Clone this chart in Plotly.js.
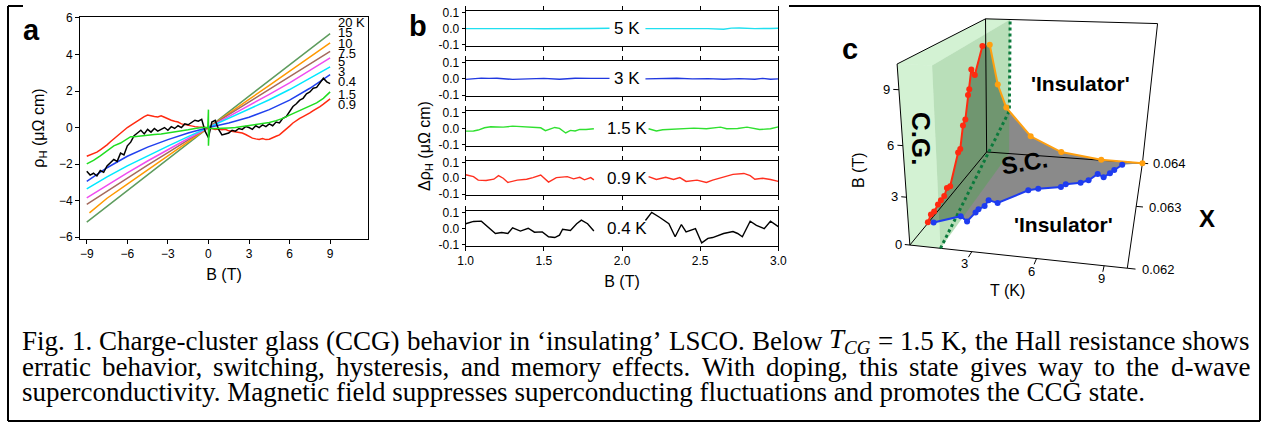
<!DOCTYPE html>
<html><head><meta charset="utf-8">
<script src="https://cdn.plot.ly/plotly-3.0.1.min.js"></script>
<style>html,body{margin:0;padding:0;background:#fff;}#chart{width:1262px;height:429px;}</style>
</head><body><div id="chart"></div>
<script>
// ================= DATA =================
// Panel a: Hall resistivity rho_H (µΩ cm) vs B (T)
const bGrid = [-9,-7.5,-6,-4.5,-3,-1.5,0,1.5,3,4.5,6,7.5,9];
const bGridOrange = [-8.8,-7.5,-6,-4.5,-3,-1.5,0,1.5,3,4.5,6,7.5,9];
const rho20K = [-5.18,-4.31,-3.45,-2.59,-1.72,-0.86,0,0.86,1.72,2.58,3.44,4.30,5.14];
const rho15K = [-4.67,-3.87,-3.10,-2.32,-1.55,-0.77,0,0.77,1.54,2.31,3.08,3.86,4.63];
const rho10K = [-4.21,-3.48,-2.77,-2.06,-1.37,-0.68,0,0.68,1.37,2.06,2.76,3.46,4.17];
const rho7p5K = [-3.85,-3.15,-2.48,-1.83,-1.20,-0.60,0,0.60,1.20,1.82,2.45,3.12,3.81];
const rho5K = [-3.36,-2.70,-2.10,-1.55,-1.02,-0.50,0,0.50,1.00,1.52,2.08,2.68,3.32];
const rho3K = [-2.94,-2.20,-1.57,-1.07,-0.66,-0.30,0,0.25,0.56,0.98,1.50,2.15,2.90];
const bRed = [-9,-8.75,-8.5,-8.25,-8,-7.75,-7.5,-7.25,-7,-6.75,-6.5,-6.25,-6,-5.75,-5.5,-5.25,-5,-4.75,-4.5,-4.25,-4,-3.75,-3.5,-3.25,-3,-2.75,-2.5,-2.25,-2,-1.75,-1.5,-1.25,-1,-0.75,-0.5,-0.25,0,0.25,0.5,0.75,1,1.25,1.5,1.75,2,2.25,2.5,2.75,3,3.25,3.5,3.75,4,4.25,4.5,4.75,5,5.25,5.5,5.75,6,6.25,6.5,6.75,7,7.25,7.5,7.75,8,8.25,8.5,8.75,9];
const rho0p9K = [-1.57,-1.50,-1.45,-1.35,-1.22,-1.10,-0.95,-0.78,-0.62,-0.45,-0.32,-0.15,0.00,0.12,0.25,0.38,0.50,0.60,0.68,0.62,0.60,0.58,0.64,0.56,0.46,0.40,0.34,0.30,0.20,0.16,0.10,0.08,0.05,0.03,0.02,0.00,-0.05,-0.05,-0.10,-0.08,-0.12,-0.10,-0.18,-0.20,-0.22,-0.25,-0.30,-0.38,-0.48,-0.58,-0.62,-0.65,-0.60,-0.66,-0.64,-0.58,-0.48,-0.40,-0.25,-0.12,0.08,0.25,0.40,0.50,0.60,0.68,0.80,0.92,1.02,1.15,1.28,1.42,1.57];
const bBlack = bRed;
const rho0p4K = [-2.39,-2.60,-2.50,-2.65,-2.35,-2.45,-2.10,-1.95,-1.75,-1.85,-1.40,-1.50,-1.00,-0.80,-0.45,-0.30,-0.15,-0.35,-0.10,-0.25,-0.05,-0.20,-0.10,0.00,-0.15,0.05,-0.05,0.10,0.00,0.20,0.15,0.30,0.40,0.35,0.45,-0.20,-0.55,0.30,0.40,-0.10,-0.40,-0.35,-0.30,-0.15,-0.20,-0.05,-0.10,0.05,0.00,-0.10,0.10,0.00,0.15,0.05,0.20,0.10,0.30,0.25,0.50,0.60,0.90,1.15,1.30,1.50,1.60,1.85,1.95,2.15,2.20,2.45,2.70,2.50,2.40];
const bGreen = [-9,-8.5,-8,-7.5,-7,-6.5,-6,-5.75,-5.5,-5,-4.5,-4,-3.5,-3,-2.5,-2,-1.5,-1,-0.5,-0.05,0,0,0.05,0.5,1,1.5,2,2.5,3,3.5,4,4.5,5,5.5,6,6.5,7,7.5,8,8.5,9];
const rho1p5K = [-1.99,-1.80,-1.55,-1.25,-1.00,-0.85,-0.62,-0.50,-0.50,-0.45,-0.42,-0.38,-0.35,-0.30,-0.25,-0.18,-0.12,-0.05,0.00,0.00,0.98,-1.00,-0.05,-0.05,-0.05,-0.02,0.00,0.05,0.10,0.15,0.20,0.28,0.38,0.50,0.68,0.85,1.00,1.15,1.35,1.60,1.95];
const tempLabels = ['20 K','15','10','7.5','5','3','0.4','1.5','0.9'];

// Panel b: delta rho_H (µΩ cm) vs B (T), 1-3 T
const bB5K = [1.0,1.1,1.2,1.3,1.4,1.5,1.6,1.7,1.8,1.92,null,2.15,2.25,2.35,2.45,2.55,2.65,2.7,2.75,2.85,2.95,3.0];
const d5K = [0,0.001,-0.001,0.002,0,-0.001,0.001,0,0.001,0.002,null,0,0.001,0,-0.001,0,-0.004,0.003,0.004,0,0.001,0.002];
const bB3K = [1.0,1.05,1.1,1.15,1.2,1.3,1.4,1.5,1.6,1.7,1.8,1.92,null,2.15,2.25,2.35,2.45,2.55,2.65,2.75,2.85,2.9,2.95,3.0];
const d3K = [-0.003,0.002,0.005,0.003,0.004,-0.003,0.002,0.003,-0.002,0.004,0.003,0.003,null,0,0.002,0.004,0,0.002,-0.002,0.002,-0.002,0.003,-0.002,0];
const bB1p5K = [1.0,1.05,1.08,1.12,1.16,1.24,1.30,1.36,1.41,1.48,1.51,1.55,1.57,1.60,1.64,1.67,1.70,1.73,1.77,1.82,null,2.17,2.22,2.26,2.30,2.35,2.40,2.46,2.54,2.60,2.63,2.67,2.74,2.80,2.85,2.88,2.95,3.0];
const d1p5K = [-0.015,-0.014,-0.008,0.006,0.012,0.010,0.016,0.014,0.012,0.006,-0.012,0.004,0.008,0.002,-0.026,-0.010,-0.014,-0.004,-0.005,0.0,null,0.0,-0.014,-0.006,-0.004,0.0,0.002,0.004,0.0,0.004,0.010,0.0,0.002,0.010,0.0,-0.005,0.0,0.012];
const bB0p9K = [1.0,1.05,1.08,1.13,1.18,1.21,1.24,1.27,1.33,1.39,1.43,1.48,1.53,1.58,1.65,1.69,1.73,1.76,1.80,1.82,null,2.17,2.22,2.28,2.33,2.37,2.41,2.48,2.54,2.58,2.65,2.71,2.78,2.82,2.85,2.90,2.95,3.0];
const d0p9K = [0.022,0.010,-0.012,-0.014,-0.006,0.016,0.0,-0.026,-0.012,-0.006,0.004,0.020,-0.024,0.004,0.010,-0.004,0.006,-0.010,0.004,-0.010,null,0.010,-0.008,0.006,-0.008,0.004,-0.020,-0.012,-0.026,-0.012,0.010,0.024,0.030,0.016,-0.006,0.0,-0.008,-0.020];
const bB0p4K = [1.0,1.05,1.10,1.14,1.19,1.23,1.27,1.30,1.35,1.40,1.44,1.49,1.53,1.57,1.60,1.62,1.67,1.71,1.74,1.78,1.82,null,2.15,2.19,2.24,2.30,2.34,2.38,2.41,2.47,2.51,2.55,2.58,2.65,2.71,2.74,2.77,2.82,2.86,2.91,2.95,3.0];
const d0p4K = [0.030,0.044,0.046,0.010,-0.030,-0.024,-0.030,0.005,-0.015,0.002,-0.022,-0.020,-0.050,-0.055,-0.040,-0.004,-0.012,0.030,0.052,0.030,-0.015,null,0.050,0.100,0.070,0.030,-0.050,0.025,-0.020,0.0,-0.088,-0.060,-0.055,-0.030,-0.018,-0.030,-0.050,0.045,0.020,0.0,0.045,0.012];
const bPanelLabels = ['5 K','3 K','1.5 K','0.9 K','0.4 K'];

// Panel c: phase diagram T (K), x (doping), B (T)
const redX = [0.06236,0.06243,0.06250,0.06259,0.06266,0.06274,0.06281,0.06289,0.06312,0.06318,0.06327,0.06334,0.06343,0.06347,0.06354,0.06364,0.06389];
const redB = [0.06,0.32,0.28,0.43,0.48,0.50,0.83,0.70,2.44,2.53,4.00,4.25,5.80,6.13,7.40,6.83,8.50];
const redT = redX.map(() => 0);           // on the T = 0 wall
const orangeT = [0.25,0.75,1.3,2.9,4.9,7.45,10.0];
const orangeB = [8.45,5.5,3.74,1.56,0.44,0.05,0.0];
const orangeX = orangeT.map(() => 0.064);  // on the x = 0.064 wall
const blueT = [0.25,1.35,1.85,1.96,2.0,2.2,2.2,2.77,4.0,4.5,5.7,5.9,6.7,7.1,7.5,7.9,8.2,8.4,8.8];
const blueX = [0.06238,0.06253,0.06245,0.06262,0.06268,0.06275,0.06287,0.06283,0.06314,0.06319,0.06327,0.06334,0.06340,0.06347,0.06364,0.06357,0.06368,0.06377,0.06392];
const blueB = blueT.map(() => 0);          // on the B = 0 floor
const T_CG = 1.5;                           // charge-glass boundary (K)
const cgEdgeB = 3.5;                        // where the boundary meets the orange curve
const tRange = [0, 10], xRange = [0.062, 0.064], bRange = [0, 10.3];
const cTicksT = [3, 6, 9], cTicksX = [0.062, 0.063, 0.064], cTicksB = [0, 3, 6, 9];

// ================= LAYOUT HELPERS =================
const W = 1262, H = 429;
const PX = v => v / W, PY = v => 1 - v / H;
const SANS = 'Liberation Sans, Arial, sans-serif';
const SERIF = 'Liberation Serif, Times New Roman, serif';
const data = [];
const annotations = [];
const shapes = [];

// ---------- panel a ----------
const aSeries = [
  [bGrid, rho20K, '#5e9c5e'], [bGridOrange, rho15K, '#ff9900'], [bGrid, rho10K, '#a56a5c'],
  [bGrid, rho7p5K, '#f04cf0'], [bGrid, rho5K, '#00e8ff'], [bGrid, rho3K, '#2040ee'],
  [bRed, rho0p9K, '#ff2a10'], [bBlack, rho0p4K, '#000000'], [bGreen, rho1p5K, '#20dd20']
];
aSeries.forEach(([x, y, c]) => data.push({type:'scatter', mode:'lines', x, y, xaxis:'x', yaxis:'y',
  line:{color:c, width:1.5}, hoverinfo:'skip'}));
const labelYs = [23,33,43,53,62,72,82,94,104];
tempLabels.forEach((t, i) => annotations.push({x:PX(336), y:PY(labelYs[i]), xref:'paper', yref:'paper',
  xanchor:'left', yanchor:'middle', text:t, showarrow:false, font:{family:SANS, size:13, color:'#000'}}));

// ---------- panel b ----------
const bSeries = [[bB5K, d5K, '#20e0f0'], [bB3K, d3K, '#2038e0'], [bB1p5K, d1p5K, '#30e030'], [bB0p9K, d0p9K, '#ff3020'], [bB0p4K, d0p4K, '#000000']];
bSeries.forEach(([x, y, c], i) => data.push({type:'scatter', mode:'lines', x, y, xaxis:'x'+(i+2), yaxis:'y'+(i+2),
  line:{color:c, width:1.4}, connectgaps:false, hoverinfo:'skip'}));
bPanelLabels.forEach((t, i) => annotations.push({x:2.03, y:0, xref:'x'+(i+2), yref:'y'+(i+2),
  xanchor:'center', yanchor:'middle', text:t, showarrow:false, font:{family:SANS, size:17, color:'#000'}}));

// ---------- panel c (perspective view drawn on a 2D pixel-scaled axis) ----------
// camera fitted (DLT) to the box corners / ticks of the reference view
const calib3 = [[0,0.062,0],[10,0.062,0],[0,0.064,0],[10,0.064,0],[0,0.062,10.3],[0,0.064,10.3],[10,0.064,10.3],
  [0,0.062,3],[0,0.062,6],[0,0.062,9],[3,0.062,0],[6,0.062,0],[9,0.062,0],[10,0.063,0]];
const calib2 = [[910,245],[1128,267],[986,150],[1143,164],[897,62],[986,20],[1157,23],
  [906.8,200],[903,147],[898.9,89],[972,251.6],[1036,258.2],[1103,264.8],[1136.6,208]];
const norm3 = (T, X, B) => [(T - tRange[0]) / (tRange[1] - tRange[0]), (X - xRange[0]) / (xRange[1] - xRange[0]), (B - bRange[0]) / (bRange[1] - bRange[0])];
const camP = (() => {
  const N = 11, A = Array.from({length:N}, () => new Array(N).fill(0)), r = new Array(N).fill(0);
  calib3.forEach((p, i) => {
    const [X, Y, Z] = norm3(p[0], p[1], p[2]), u = calib2[i][0] / 1000, v = calib2[i][1] / 1000;
    const rows = [[[X,Y,Z,1,0,0,0,0,-u*X,-u*Y,-u*Z], u], [[0,0,0,0,X,Y,Z,1,-v*X,-v*Y,-v*Z], v]];
    rows.forEach(([row, t]) => { for (let a = 0; a < N; a++) { r[a] += row[a] * t; for (let c = 0; c < N; c++) A[a][c] += row[a] * row[c]; } });
  });
  for (let c = 0; c < N; c++) {
    let piv = c; for (let a = c + 1; a < N; a++) if (Math.abs(A[a][c]) > Math.abs(A[piv][c])) piv = a;
    [A[c], A[piv]] = [A[piv], A[c]]; [r[c], r[piv]] = [r[piv], r[c]];
    for (let a = 0; a < N; a++) if (a !== c) { const f = A[a][c] / A[c][c]; for (let k = c; k < N; k++) A[a][k] -= f * A[c][k]; r[a] -= f * r[c]; }
  }
  return r.map((v, i) => v / A[i][i]);
})();
const proj = (T, X, B) => {
  const [x, y, z] = norm3(T, X, B), p = camP, w = p[8]*x + p[9]*y + p[10]*z + 1;
  return [1000 * (p[0]*x + p[1]*y + p[2]*z + p[3]) / w, 1000 * (p[4]*x + p[5]*y + p[6]*z + p[7]) / w];
};
const projPath = (Ts, Xs, Bs) => { const u = [], v = []; Ts.forEach((t, i) => { const q = proj(t, Xs[i], Bs[i]); u.push(q[0]); v.push(q[1]); }); return {x:u, y:v}; };
const C = {xaxis:'x7', yaxis:'y7', hoverinfo:'skip'};
const [t0, t1] = tRange, [x0, x1] = xRange, [b0, b1] = bRange;
// gray superconducting region bounded by the three phase lines
const grayPath = projPath([].concat(redT, orangeT, blueT.slice().reverse()), [].concat(redX, orangeX, blueX.slice().reverse()),
  [].concat(redB, orangeB, blueB.slice().reverse()));
data.push(Object.assign({type:'scatter', mode:'lines', fill:'toself', fillcolor:'rgb(138,138,138)', line:{width:0, color:'rgba(0,0,0,0)'}}, grayPath, C));
// green charge-glass slab (0 < T < T_CG): front face, top face, T = T_CG face
const faces = [
  [[[t0,x0,b0],[T_CG,x0,b0],[T_CG,x0,b1],[t0,x0,b1]], 'rgba(120,215,120,0.33)'],
  [[[t0,x0,b1],[T_CG,x0,b1],[T_CG,x1,b1],[t0,x1,b1]], 'rgba(120,215,120,0.33)'],
  [[[T_CG,x0,b0],[T_CG,x1,b0],[T_CG,x1,b1],[T_CG,x0,b1]], 'rgba(70,170,70,0.38)']
];
faces.forEach(([pts, col]) => data.push(Object.assign({type:'scatter', mode:'lines', fill:'toself', fillcolor:col,
  line:{width:0, color:'rgba(0,0,0,0)'}}, projPath(pts.map(p=>p[0]), pts.map(p=>p[1]), pts.map(p=>p[2])), C)));
// box edges
const edges = [
  [[t0,x0,b0],[t0,x0,b1]], [[t0,x0,b1],[t0,x1,b1]], [[t0,x1,b1],[t0,x1,b0]], [[t0,x1,b1],[t1,x1,b1]],
  [[t1,x1,b1],[t1,x1,b0]], [[t0,x1,b0],[t1,x1,b0]], [[t0,x0,b0],[t1,x0,b0]], [[t1,x0,b0],[t1,x1,b0]], [[t0,x0,b0],[t0,x1,b0]]
];
edges.forEach(e => data.push(Object.assign({type:'scatter', mode:'lines', line:{color:'#000', width:1}},
  projPath(e.map(p=>p[0]), e.map(p=>p[1]), e.map(p=>p[2])), C)));
// ticks and tick labels
const tickLine = (a, b) => data.push(Object.assign({type:'scatter', mode:'lines', line:{color:'#000', width:1}},
  projPath([a[0], b[0]], [a[1], b[1]], [a[2], b[2]]), C));
const cFont = {family:SANS, size:13, color:'#000'};
cTicksB.forEach(b => { tickLine([t0,x0,b], [t0-0.25,x0,b]); const q = proj(t0-0.3, x0, b);
  annotations.push({x:q[0], y:q[1], xref:'x7', yref:'y7', xanchor:'right', yanchor:'middle', text:String(b), showarrow:false, font:cFont}); });
cTicksT.forEach(t => { tickLine([t,x0,b0], [t,x0-0.00008,b0]); const q = proj(t, x0-0.00017, b0);
  annotations.push({x:q[0], y:q[1], xref:'x7', yref:'y7', xanchor:'center', yanchor:'middle', text:String(t), showarrow:false, font:cFont}); });
cTicksX.forEach(x => { tickLine([t1,x,b0], [t1+0.35,x,b0]); const q = proj(t1+0.55, x, b0);
  annotations.push({x:q[0], y:q[1], xref:'x7', yref:'y7', xanchor:'left', yanchor:'middle', text:x.toFixed(3), showarrow:false, font:cFont}); });
// charge-glass boundary (dotted)
data.push(Object.assign({type:'scatter', mode:'lines', line:{color:'#0b7a3c', width:3, dash:'dot'}},
  projPath([T_CG, T_CG, T_CG], [x0, x1, x1], [b0, cgEdgeB, b1]), C));
// phase lines
[[redT, redX, redB, '#ff2a10'], [orangeT, orangeX, orangeB, '#ffa010'], [blueT, blueX, blueB, '#1e3cf0']].forEach(([T, X, B, col]) =>
  data.push(Object.assign({type:'scatter', mode:'lines+markers', line:{color:col, width:2}, marker:{color:col, size:6}}, projPath(T, X, B), C)));

// ---------- axes ----------
const tickfont = {family:SANS, size:12, color:'#000'};
const layout = {
  width:W, height:H, margin:{l:0, r:0, t:0, b:0}, paper_bgcolor:'#fff', plot_bgcolor:'rgba(0,0,0,0)', showlegend:false,
  font:{family:SANS, color:'#000'},
  xaxis:{domain:[PX(80), PX(368)], range:[-9.5, 11.8], tickvals:[-9,-6,-3,0,3,6,9], ticks:'outside', ticklen:4,
    tickcolor:'#000', showline:true, mirror:true, linecolor:'#000', linewidth:1, zeroline:false, showgrid:false, tickfont,
    title:{text:'B (T)', font:{family:SANS, size:16}, standoff:8}},
  yaxis:{domain:[PY(239), PY(17)], range:[-6.1, 6.05], tickvals:[-6,-4,-2,0,2,4,6], ticks:'outside', ticklen:4,
    tickcolor:'#000', showline:true, mirror:true, linecolor:'#000', linewidth:1, zeroline:false, showgrid:false, tickfont,
    title:{text:'ρ<sub>H</sub> (μΩ cm)', font:{family:SANS, size:16}, standoff:10}},
  xaxis7:{domain:[PX(840), 1], range:[840, W], visible:false, fixedrange:true},
  yaxis7:{domain:[0, 1], range:[H, 0], visible:false, fixedrange:true, anchor:'x7'},
  annotations, shapes
};
const bDomains = [[45.7,10.7],[96,61],[145.7,111],[195,160.7],[245.7,210.7]];
for (let k = 2; k <= 6; k++) {
  const d = bDomains[k-2];
  layout['xaxis'+k] = {domain:[PX(465.7), PX(778.3)], range:[1,3], anchor:'y'+k, tickvals:[1,1.5,2,2.5,3], tickformat:'.1f',
    ticks:'outside', ticklen:4, tickcolor:'#000', showticklabels:k===6, showline:true, mirror:'ticks', linecolor:'#000',
    linewidth:1, zeroline:false, showgrid:false, tickfont};
  if (k === 6) layout['xaxis'+k].title = {text:'B (T)', font:{family:SANS, size:16}, standoff:8};
  layout['yaxis'+k] = {domain:[PY(d[0]), PY(d[1])], range:[-0.105, 0.11], anchor:'x'+k, tickvals:[-0.1,0,0.1],
    ticktext:['-0.1','0.0','0.1'], ticks:'outside', ticklen:3, tickcolor:'#000', showline:true, mirror:true, linecolor:'#000',
    linewidth:1, zeroline:false, showgrid:false, tickfont};
}

// ---------- panel text ----------
const txt = (x, y, text, size, extra) => annotations.push(Object.assign({x:PX(x), y:PY(y), xref:'paper', yref:'paper',
  xanchor:'center', yanchor:'middle', text, showarrow:false, font:{family:SANS, size, color:'#000'}}, extra || {}));
txt(31, 30, '<b>a</b>', 29);
txt(418, 26, '<b>b</b>', 29);
txt(850, 49, '<b>c</b>', 29);
txt(425, 146, 'Δρ<sub>H</sub> (μΩ cm)', 16, {textangle:-90});
txt(1080, 83, "<b>'Insulator'</b>", 21);
txt(1063, 224, "<b>'Insulator'</b>", 21);
txt(1024, 162, '<b>S.C.</b>', 24, {textangle:-10});
txt(921, 138, '<b>C.G.</b>', 26, {textangle:90});
txt(1207, 218, '<b>X</b>', 24);
txt(1008, 290, 'T (K)', 16);
txt(858, 170, 'B (T)', 16, {textangle:-90});

// ---------- frame ----------
const frame = [[8,6,8,421],[8,6,23,6],[789,6,1260,6],[1260,6,1260,421],[8,421,1260,421]];
frame.forEach(f => shapes.push({type:'line', xref:'paper', yref:'paper', x0:PX(f[0]), y0:PY(f[1]), x1:PX(f[2]), y1:PY(f[3]),
  line:{color:'#000', width:2}}));

// ---------- caption (justified) ----------
const capLines = [
  'Fig. 1. Charge-cluster glass (CCG) behavior in ‘insulating’ LSCO. Below T_CG = 1.5 K, the Hall resistance shows',
  'erratic behavior, switching, hysteresis, and memory effects.  With doping, this state gives way to the d-wave',
  'superconductivity. Magnetic field suppresses superconducting fluctuations and promotes the CCG state.'
];
const capSize = 27, capLeft = 22, capRight = 1250, capYs = [341, 366.5, 391.5];
const ctx = document.createElement('canvas').getContext('2d');
const meas = (s, it, sz) => { ctx.font = (it ? 'italic ' : '') + (sz || capSize) + 'px "Liberation Serif"'; return ctx.measureText(s).width; };
const capFont = {family:SERIF, size:capSize, color:'#000'};
capLines.forEach((line, li) => {
  if (li === 2) {
    annotations.push({x:PX(capLeft-2), y:PY(capYs[li]), xref:'paper', yref:'paper', xanchor:'left', yanchor:'middle',
      text:line, showarrow:false, font:capFont});
    return;
  }
  const words = line.split(/\s+/);
  const html = words.map(w => w === 'T_CG' ? '<i>T</i><sub><i>CG</i></sub>' : w);
  const widths = words.map(w => w === 'T_CG' ? meas('T', true) + meas('CG', true, capSize*0.7) : meas(w));
  const total = widths.reduce((a, b) => a + b, 0);
  const gap = (capRight - capLeft - total) / (words.length - 1);
  let xpos = capLeft;
  words.forEach((w, i) => {
    annotations.push({x:PX(xpos-2), y:PY(capYs[li]), xref:'paper', yref:'paper', xanchor:'left', yanchor:'middle',
      text:html[i], showarrow:false, font:capFont});
    xpos += widths[i] + gap;
  });
});

Plotly.newPlot('chart', data, layout, {displayModeBar:false, staticPlot:true});
</script></body></html>
